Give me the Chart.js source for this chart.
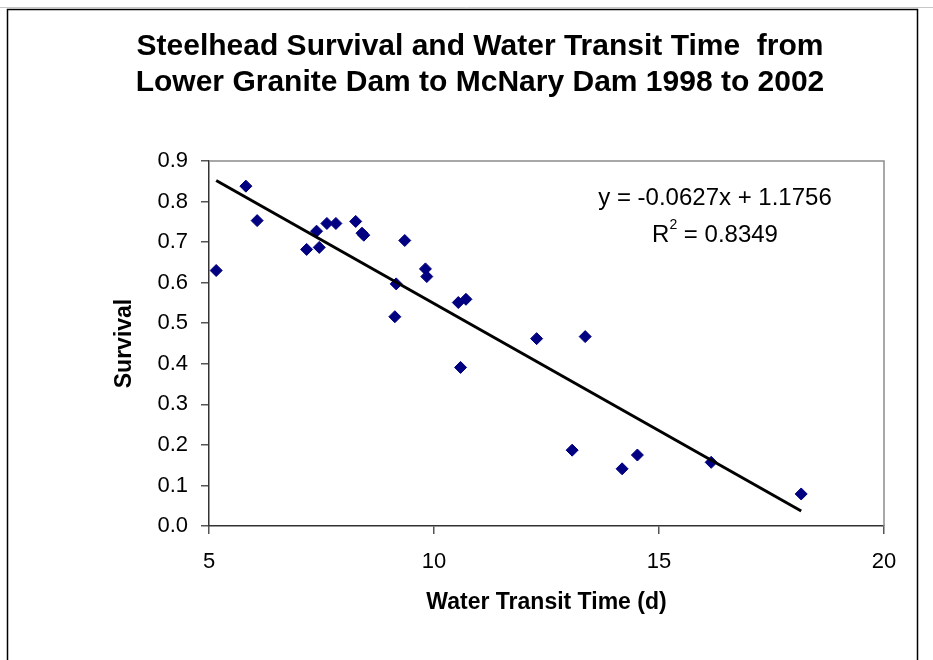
<!DOCTYPE html>
<html>
<head>
<meta charset="utf-8">
<script src="https://cdn.jsdelivr.net/npm/chart.js@4/dist/chart.umd.min.js"></script>
<style>
  html, body { margin: 0; padding: 0; background: #ffffff; }
  #wrap { width: 933px; height: 660px; position: relative; }
</style>
</head>
<body>
<div id="wrap"><canvas id="c" width="933" height="660"></canvas></div>
<script>
// ---- Data ----
const transitTime = [5.16, 5.82, 6.07, 7.17, 7.39, 7.45, 7.62, 7.82, 8.26, 8.40, 8.44, 9.13, 9.16, 9.35, 9.81, 9.84, 10.54, 10.59, 10.71, 12.28, 13.07, 13.36, 14.18, 14.52, 16.16, 18.16];
const survival    = [0.630, 0.838, 0.753, 0.682, 0.727, 0.687, 0.746, 0.746, 0.751, 0.722, 0.717, 0.516, 0.597, 0.704, 0.634, 0.615, 0.551, 0.391, 0.559, 0.462, 0.187, 0.467, 0.141, 0.175, 0.157, 0.079];
const trendSlope = -0.0627;
const trendIntercept = 1.1756;
const rSquared = 0.8349;
const xTicks = [5, 10, 15, 20];
const yTicks = [0.0, 0.1, 0.2, 0.3, 0.4, 0.5, 0.6, 0.7, 0.8, 0.9];
const titleLines = ['Steelhead Survival and Water Transit Time  from', 'Lower Granite Dam to McNary Dam 1998 to 2002'];
const xTitle = 'Water Transit Time (d)';
const yTitle = 'Survival';

const points = transitTime.map((x, i) => ({ x: x, y: survival[i] }));
const xMin = Math.min(...transitTime), xMax = Math.max(...transitTime);
const trend = [xMin, xMax].map(x => ({ x: x, y: trendSlope * x + trendIntercept }));

const FONT = "'Liberation Sans', Arial, sans-serif";

const framePlugin = {
  id: 'frame',
  beforeDraw(chart) {
    const ctx = chart.ctx;
    ctx.save();
    ctx.fillStyle = '#fff';
    ctx.fillRect(0, 0, chart.width, chart.height);
    ctx.strokeStyle = '#c8c8c8';
    ctx.lineWidth = 1;
    ctx.beginPath(); ctx.moveTo(0, 7.5); ctx.lineTo(chart.width, 7.5); ctx.stroke();
    ctx.strokeStyle = '#000';
    ctx.lineWidth = 1.5;
    ctx.beginPath();
    ctx.moveTo(7.5, chart.height + 5);
    ctx.lineTo(7.5, 9.5);
    ctx.lineTo(917.5, 9.5);
    ctx.lineTo(917.5, chart.height + 5);
    ctx.stroke();
    ctx.restore();
  },
  afterDatasetsDraw(chart) {
    const ctx = chart.ctx;
    const a = chart.chartArea;
    ctx.save();
    ctx.strokeStyle = '#8c8c8c';
    ctx.lineWidth = 1.5;
    ctx.beginPath();
    ctx.moveTo(a.left, a.top);
    ctx.lineTo(a.right, a.top);
    ctx.lineTo(a.right, a.bottom);
    ctx.stroke();
    // trendline equation label
    const big = "24px " + FONT, small = "14px " + FONT;
    ctx.fillStyle = '#000';
    ctx.font = big;
    ctx.textAlign = 'center';
    ctx.textBaseline = 'middle';
    ctx.fillText('y = ' + trendSlope.toFixed(4) + 'x + ' + trendIntercept.toFixed(4), 715, 198);
    const r1 = 'R', r2 = ' = ' + rSquared.toFixed(4);
    const w1 = ctx.measureText(r1).width;
    ctx.font = small;
    const ws = ctx.measureText('2').width;
    ctx.font = big;
    const w2 = ctx.measureText(r2).width;
    const total = w1 + ws + w2;
    let sx = 715 - total / 2;
    ctx.textAlign = 'left';
    ctx.fillText(r1, sx, 235);
    ctx.font = small;
    ctx.fillText('2', sx + w1, 225);
    ctx.font = big;
    ctx.fillText(r2, sx + w1 + ws, 235);
    ctx.restore();
  }
};

new Chart(document.getElementById('c'), {
  type: 'scatter',
  data: {
    datasets: [
      {
        label: 'Survival',
        data: points,
        pointStyle: 'rectRot',
        pointRadius: 6,
        pointHoverRadius: 6,
        backgroundColor: '#000080',
        borderColor: '#000080',
        borderWidth: 1,
        order: 2
      },
      {
        type: 'line',
        label: 'Linear trend',
        data: trend,
        borderColor: '#000000',
        borderWidth: 3,
        pointRadius: 0,
        fill: false,
        order: 1
      }
    ]
  },
  options: {
    responsive: false,
    devicePixelRatio: 1,
    animation: false,
    layout: { padding: { left: 40, right: 13, top: 0, bottom: 0 } },
    plugins: {
      legend: { display: false },
      tooltip: { enabled: false },
      title: {
        display: true,
        text: titleLines,
        color: '#000',
        font: { family: "'Liberation Sans Narrow', 'Liberation Sans', Arial, sans-serif", size: 30, weight: 'bold', lineHeight: 36 / 30 },
        padding: { top: 29, bottom: 60 }
      }
    },
    scales: {
      x: {
        type: 'linear',
        min: 5, max: 20,
        afterBuildTicks: (s) => { s.ticks = xTicks.map(v => ({ value: v })); },
        afterFit: (s) => { s.height = 134; },
        ticks: {
          color: '#000',
          font: { family: FONT, size: 22 },
          padding: 15,
          callback: (v) => String(v)
        },
        grid: { drawOnChartArea: false, drawTicks: true, tickLength: 8, color: '#555', lineWidth: 1.5 },
        border: { display: true, color: '#333', width: 1.5 },
        title: {
          display: true,
          text: xTitle,
          color: '#000',
          font: { family: FONT, size: 23, weight: 'bold', lineHeight: 1.2 },
          padding: { top: 0, bottom: 44 }
        }
      },
      y: {
        type: 'linear',
        min: 0, max: 0.9,
        afterBuildTicks: (s) => { s.ticks = yTicks.map(v => ({ value: v })); },
        afterFit: (s) => { s.width = 169; },
        ticks: {
          color: '#000',
          font: { family: FONT, size: 22 },
          padding: 13,
          callback: (v) => Number(v).toFixed(1)
        },
        grid: { drawOnChartArea: false, drawTicks: true, tickLength: 8, color: '#555', lineWidth: 1.5 },
        border: { display: true, color: '#333', width: 1.5 },
        title: {
          display: true,
          text: yTitle,
          color: '#000',
          font: { family: FONT, size: 23, weight: 'bold', lineHeight: 1.2 },
          padding: { top: 71, bottom: 0 }
        }
      },
      yRight: {
        type: 'linear',
        position: 'right',
        display: true,
        min: 0, max: 0.9,
        afterFit: (s) => { s.width = 36; },
        ticks: { display: false },
        grid: { display: false, drawTicks: false },
        border: { display: false }
      }
    }
  },
  plugins: [framePlugin]
});
</script>
</body>
</html>
